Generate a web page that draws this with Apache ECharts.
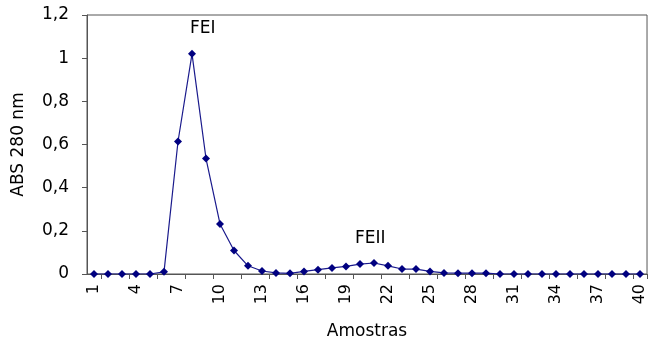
<!DOCTYPE html>
<html>
<head>
<meta charset="utf-8">
<script src="https://cdn.jsdelivr.net/npm/echarts@6/dist/echarts.min.js"></script>
<style>
  html, body { margin: 0; padding: 0; background: #fff; }
</style>
</head>
<body>
<div id="chart" style="width:648px;height:345px;"></div>
<script>
  // amostras 1..40
  var amostras = []
  for (var i = 1; i <= 40; i++) amostras.push(String(i))

  // absorbancia a 280 nm
  var abs280 = [
    0, 0, 0, 0, 0, 0.01, 0.614, 1.02, 0.535, 0.232,
    0.109, 0.038, 0.014, 0.005, 0.003, 0.012, 0.02, 0.028, 0.035, 0.046,
    0.051, 0.038, 0.023, 0.023, 0.012, 0.005, 0.004, 0.004, 0.004, 0,
    0, 0, 0, 0, 0, 0, 0, 0, 0, 0
  ]

  var yTicks = [0, 0.2, 0.4, 0.6, 0.8, 1, 1.2]

  var fontFam = '"DejaVu Sans", sans-serif'

  var chart = echarts.init(document.getElementById('chart'))
  chart.setOption({
    animation: false,
    backgroundColor: '#fff',
    grid: {
      left: 87,
      top: 15,
      width: 562,
      height: 261,
      show: true,
      borderColor: '#555',
      borderWidth: 1
    },
    xAxis: {
      type: 'category',
      data: amostras,
      boundaryGap: true,
      name: 'Amostras',
      nameLocation: 'middle',
      nameGap: 49,
      nameTextStyle: { fontFamily: fontFam, fontSize: 17, color: '#000' },
      axisLine: { lineStyle: { color: '#555', width: 1 } },
      axisTick: {
        show: true,
        length: 5,
        interval: function (index) { return index % 2 === 1 },
        lineStyle: { color: '#555' }
      },
      axisLabel: {
        interval: 2,
        rotate: 90,
        margin: 10,
        fontFamily: fontFam,
        fontSize: 16,
        color: '#000'
      },
      splitLine: { show: false }
    },
    yAxis: {
      type: 'value',
      min: 0,
      max: 1.2,
      interval: 0.2,
      name: 'ABS 280 nm',
      nameLocation: 'middle',
      nameGap: 60,
      nameTextStyle: { fontFamily: fontFam, fontSize: 17, color: '#000' },
      axisLine: { show: true, lineStyle: { color: '#555', width: 1 } },
      axisTick: { show: true, length: 5, lineStyle: { color: '#555' } },
      axisLabel: {
        margin: 18,
        fontFamily: fontFam,
        fontSize: 17,
        color: '#000',
        formatter: function (v) {
          var t = yTicks.find(function (y) { return Math.abs(y - v) < 1e-6 })
          return String(t !== undefined ? t : v).replace('.', ',')
        }
      },
      splitLine: { show: false }
    },
    series: [
      {
        name: 'ABS 280 nm',
        type: 'line',
        data: abs280,
        symbol: 'diamond',
        symbolSize: 8,
        lineStyle: { color: '#1a1a8c', width: 1.2 },
        itemStyle: { color: '#000080' }
      }
    ],
    graphic: [
      {
        type: 'text',
        left: 190,
        top: 20,
        style: { text: 'FEI', fontFamily: fontFam, fontSize: 17, fill: '#000' }
      },
      {
        type: 'text',
        left: 355,
        top: 230,
        style: { text: 'FEII', fontFamily: fontFam, fontSize: 17, fill: '#000' }
      }
    ]
  })
</script>
</body>
</html>
